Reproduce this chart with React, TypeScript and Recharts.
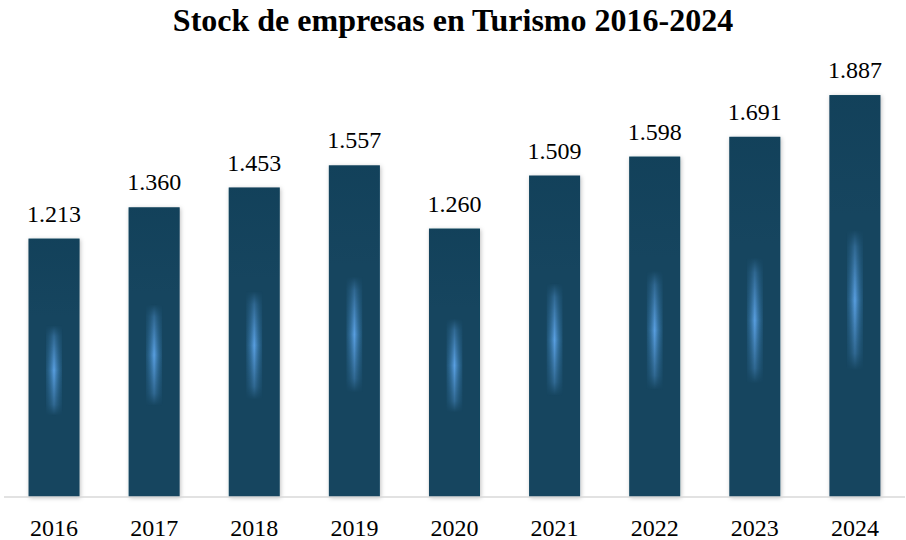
import React from "react";
import { BarChart, Bar, XAxis, YAxis, LabelList } from "recharts";

const years = ["2016", "2017", "2018", "2019", "2020", "2021", "2022", "2023", "2024"];
const stock = [1213, 1360, 1453, 1557, 1260, 1509, 1598, 1691, 1887];

const data = years.map((y, i) => ({ year: y, value: stock[i] }));

const fmt = (v: number) => {
  const s = String(Math.round(v));
  return s.replace(/\B(?=(\d{3})+(?!\d))/g, ".");
};

const SERIF = "'Liberation Serif', 'Times New Roman', serif";

const BarShape = (props: any) => {
  const { x, y, width, height } = props;
  const gw = width * 0.32;
  const gh = height * 0.35;
  return (
    <g>
      <rect x={x} y={y} width={width} height={height} fill="#12445E" filter="url(#barShadow)" />
      <rect x={x} y={y} width={width} height={height} fill="url(#topShade)" />
      <rect
        x={x + (width - gw) / 2}
        y={y + (height - gh) / 2 + height * 0.01}
        width={gw}
        height={gh}
        fill="url(#glowH)"
        mask="url(#glowMask)"
      />
    </g>
  );
};

export default function App() {
  return (
    <div style={{ position: "absolute", left: 0, top: 0, width: 906, height: 540, background: "#fff" }}>
      <div
        style={{
          position: "absolute",
          left: 0,
          top: 0,
          width: 906,
          textAlign: "center",
          fontFamily: SERIF,
          fontWeight: "bold",
          fontSize: 32,
          lineHeight: "40px",
          color: "#000",
        }}
      >
        Stock de empresas en Turismo 2016-2024
      </div>
      <BarChart
        width={906}
        height={540}
        data={data}
        margin={{ top: 71, right: 1, bottom: 0, left: 4 }}
        barCategoryGap="24.5%"
        style={{ position: "absolute", left: 0, top: 0 }}
      >
        <defs>
          <linearGradient id="glowH" x1="0" y1="0" x2="1" y2="0">
            <stop offset="0%" stopColor="#2A6994" stopOpacity={0.35} />
            <stop offset="50%" stopColor="#5AA0E2" stopOpacity={1} />
            <stop offset="100%" stopColor="#2A6994" stopOpacity={0.35} />
          </linearGradient>
          <linearGradient id="glowV" x1="0" y1="0" x2="0" y2="1">
            <stop offset="0%" stopColor="#000" />
            <stop offset="12%" stopColor="#666" />
            <stop offset="50%" stopColor="#fff" />
            <stop offset="88%" stopColor="#666" />
            <stop offset="100%" stopColor="#000" />
          </linearGradient>
          <mask id="glowMask" maskContentUnits="objectBoundingBox">
            <rect x="0" y="0" width="1" height="1" fill="url(#glowV)" />
          </mask>
          <linearGradient id="topShade" x1="0" y1="0" x2="0" y2="1">
            <stop offset="0%" stopColor="#0C3A52" stopOpacity={0.35} />
            <stop offset="30%" stopColor="#0C3A52" stopOpacity={0} />
            <stop offset="100%" stopColor="#0C3A52" stopOpacity={0} />
          </linearGradient>
          <filter id="barShadow" x="-30%" y="-10%" width="160%" height="120%">
            <feDropShadow dx="1" dy="1" stdDeviation="2" floodColor="#000" floodOpacity="0.25" />
          </filter>
        </defs>
        <XAxis
          dataKey="year"
          height={43}
          tickLine={false}
          tickSize={0}
          tickMargin={22}
          axisLine={{ stroke: "#D9D9D9", strokeWidth: 1.5 }}
          tick={{ fill: "#000", fontSize: 24, fontFamily: SERIF }}
          interval={0}
        />
        <YAxis hide domain={[0, 2000]} />
        <Bar dataKey="value" shape={BarShape} isAnimationActive={false}>
          <LabelList
            dataKey="value"
            position="top"
            offset={17}
            formatter={(v: any) => fmt(Number(v))}
            style={{ fill: "#000", fontSize: 24, fontFamily: SERIF }}
          />
        </Bar>
      </BarChart>
    </div>
  );
}
